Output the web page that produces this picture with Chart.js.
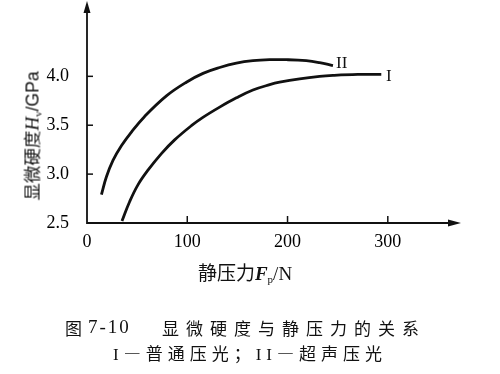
<!DOCTYPE html>
<html lang="zh">
<head>
    <meta charset="UTF-8">
    <title>显微硬度与静压力的关系</title>
    <script src="https://cdn.jsdelivr.net/npm/chart.js"></script>
    <style>
        body { margin: 0; background: #fff; }
        .wrap { position: relative; width: 500px; height: 374px; }
        .wrap canvas { position: absolute; left: 0; top: 0; }
        .txt { position: absolute; color: #111; white-space: nowrap; transform: translate(-50%, -50%); }
        .cjk { font-family: "Noto Sans CJK SC", sans-serif; font-size: 17px; }
        .serif { font-family: "Liberation Serif", serif; }
        .sans { font-family: "Liberation Sans", sans-serif; }
        sub { font-size: 11px; vertical-align: -3px; }
        #ytitle { left: 31px; top: 136px; font-size: 17.5px; transform: translate(-50%, -50%) rotate(-90deg); }
        #xtitle { left: 245px; top: 271px; font-size: 19px; }
        .cap { transform: translate(0, -50%); }
        .sp { letter-spacing: 7px; }
    </style>
</head>
<body>
    <div class="wrap">
        <canvas id="hvChart" width="500" height="374"></canvas>
        <div class="txt cjk" id="ytitle">显微硬度<i class="serif" style="font-size:19px">H</i><sub class="serif">v</sub><span class="sans">/GPa</span></div>
        <div class="txt cjk" id="xtitle">静压力<i class="serif" style="font-weight:bold">F</i><sub class="serif">p</sub><span class="serif">/N</span></div>
        <div class="txt cjk cap" style="left:65px; top:327px">图</div>
        <div class="txt serif cap" style="left:88px; top:327px; font-size:19px; letter-spacing:2px">7-10</div>
        <div class="txt cjk cap sp" style="left:162px; top:327px">显微硬度与静压力的关系</div>
        <div class="txt cjk cap" style="left:113px; top:352px; letter-spacing:5px"><span class="serif">I</span>—普通压光；<span class="serif">II</span>—超声压光</div>
    </div>

    <script>
        // 曲线 I（普通压光）
        const fpI = [34.9, 42.6, 50.8, 60.8, 74.2, 87.4, 104.1, 115.6, 132.3, 149.0, 165.5, 182.2, 192.1, 212.1, 232.0, 245.3, 270.0, 293.5];
        const hvI = [2.52, 2.72, 2.89, 3.04, 3.21, 3.35, 3.495, 3.58, 3.685, 3.78, 3.86, 3.915, 3.94, 3.975, 4.00, 4.01, 4.02, 4.02];

        // 曲线 II（超声压光）
        const fpII = [14.4, 19.3, 25.9, 34.3, 44.3, 57.5, 79.2, 99.1, 115.7, 132.3, 149.0, 165.5, 182.2, 198.8, 218.7, 232.0, 245.3];
        const hvII = [2.79, 2.97, 3.14, 3.29, 3.43, 3.59, 3.80, 3.94, 4.03, 4.09, 4.135, 4.16, 4.17, 4.17, 4.16, 4.14, 4.11];

        // 刻度
        const xTicks = [0, 100, 200, 300];
        const yTicks = [2.5, 3.0, 3.5, 4.0];

        // 曲线末端标注
        const curveLabels = ['I', 'II'];
        const labelFp = [301, 254];
        const labelHv = [4.00, 4.13];

        const toPoints = (xs, ys) => xs.map((x, i) => ({ x: x, y: ys[i] }));

        // 坐标轴、箭头、内侧刻度和曲线标注
        const axisPlugin = {
            id: 'axisPlugin',
            afterDraw(chart) {
                const ctx = chart.ctx;
                const xs = chart.scales.x, ys = chart.scales.y;
                const left = chart.chartArea.left, bottom = chart.chartArea.bottom;
                ctx.save();
                ctx.strokeStyle = '#111';
                ctx.fillStyle = '#111';
                ctx.lineWidth = 1.8;
                ctx.beginPath();
                ctx.moveTo(left, 8);
                ctx.lineTo(left, bottom);
                ctx.lineTo(448, bottom);
                ctx.stroke();
                // 箭头
                ctx.beginPath();
                ctx.moveTo(left, 1);
                ctx.lineTo(left - 3.5, 13);
                ctx.lineTo(left + 3.5, 13);
                ctx.closePath();
                ctx.fill();
                ctx.beginPath();
                ctx.moveTo(461, bottom);
                ctx.lineTo(448, bottom - 3.5);
                ctx.lineTo(448, bottom + 3.5);
                ctx.closePath();
                ctx.fill();
                // 刻度线
                ctx.lineWidth = 1.5;
                xTicks.slice(1).forEach(v => {
                    const px = xs.getPixelForValue(v);
                    ctx.beginPath();
                    ctx.moveTo(px, bottom);
                    ctx.lineTo(px, bottom - 7);
                    ctx.stroke();
                });
                yTicks.slice(1).forEach(v => {
                    const py = ys.getPixelForValue(v);
                    ctx.beginPath();
                    ctx.moveTo(left, py);
                    ctx.lineTo(left + 6, py);
                    ctx.stroke();
                });
                // 曲线标注
                ctx.font = '17px "Liberation Serif", serif';
                ctx.textAlign = 'center';
                ctx.textBaseline = 'middle';
                curveLabels.forEach((t, i) => {
                    ctx.fillText(t, xs.getPixelForValue(labelFp[i]), ys.getPixelForValue(labelHv[i]));
                });
                ctx.restore();
            }
        };

        const tickFont = { family: '"Liberation Serif", serif', size: 18 };

        new Chart(document.getElementById('hvChart').getContext('2d'), {
            type: 'scatter',
            data: {
                datasets: [
                    {
                        label: 'I 普通压光',
                        data: toPoints(fpI, hvI),
                        showLine: true,
                        borderColor: '#111',
                        borderWidth: 2.8,
                        pointRadius: 0,
                        tension: 0.4
                    },
                    {
                        label: 'II 超声压光',
                        data: toPoints(fpII, hvII),
                        showLine: true,
                        borderColor: '#111',
                        borderWidth: 2.8,
                        pointRadius: 0,
                        tension: 0.4
                    }
                ]
            },
            options: {
                responsive: false,
                animation: false,
                layout: { padding: { left: 0, right: 40, top: 3, bottom: 0 } },
                plugins: { legend: { display: false }, tooltip: { enabled: false } },
                scales: {
                    x: {
                        type: 'linear',
                        min: 0,
                        max: 372,
                        grid: { display: false },
                        border: { display: false },
                        afterBuildTicks: s => { s.ticks = xTicks.map(v => ({ value: v })); },
                        afterFit: s => { s.height = 151; s.paddingLeft = 0; s.paddingRight = 0; },
                        ticks: { color: '#000', font: tickFont, padding: 0, maxRotation: 0 }
                    },
                    y: {
                        type: 'linear',
                        min: 2.5,
                        max: 4.75,
                        grid: { display: false },
                        border: { display: false },
                        afterBuildTicks: s => { s.ticks = yTicks.map(v => ({ value: v })); },
                        afterFit: s => { s.width = 87; s.paddingTop = 0; s.paddingBottom = 0; },
                        ticks: { color: '#000', font: tickFont, padding: 10, callback: v => v.toFixed(1) }
                    }
                }
            },
            plugins: [axisPlugin]
        });
    </script>
</body>
</html>
